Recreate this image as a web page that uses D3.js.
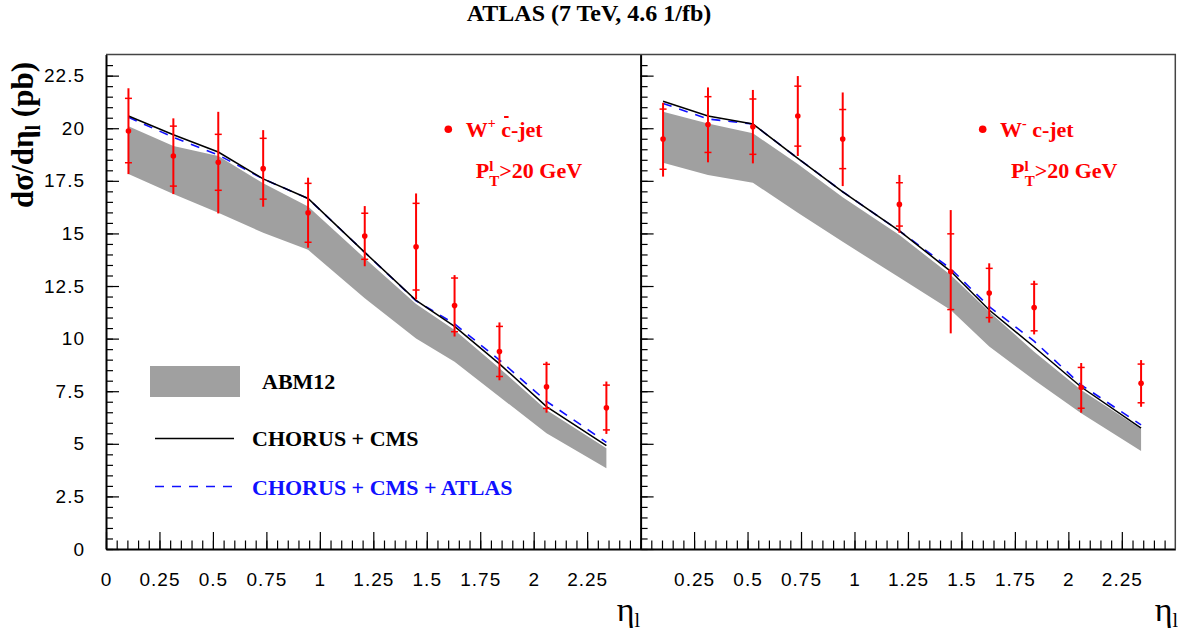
<!DOCTYPE html>
<html>
<head>
<meta charset="utf-8">
<script src="https://cdn.jsdelivr.net/npm/d3@7"></script>
<style>
  body { margin: 0; background: #fff; }
  svg text { font-family: 'Liberation Serif', 'Times New Roman', serif; }
  .tick text { font-family: 'Liberation Sans', Arial, sans-serif; font-size: 19px; letter-spacing: 1px; fill: #000; }
  .tick line { stroke: #000; stroke-width: 1.2; }
  .domain { stroke: #000; stroke-width: 2; }
</style>
</head>
<body>
<script>

var width = 1178;
var height = 633;

// bin centres in |eta_l|
var eta = [0.105, 0.315, 0.525, 0.735, 0.945, 1.21, 1.45, 1.63, 1.84, 2.06, 2.34];

// W+ cbar-jet (left panel)
var wpVal    = [19.87, 18.68, 18.38, 18.08, 15.98, 14.88, 14.37, 11.57, 9.39, 7.71, 6.71];
var wpTotHi  = [21.9, 20.47, 20.78, 19.91, 17.65, 16.3, 16.9, 13.02, 10.77, 8.9, 7.96];
var wpTotLo  = [17.82, 16.87, 15.95, 16.27, 14.32, 13.44, 11.87, 10.1, 8.02, 6.48, 5.47];
var wpStatHi = [21.42, 20.1, 19.71, 19.52, 17.38, 15.96, 16.43, 12.88, 10.58, 8.78, 7.79];
var wpStatLo = [18.36, 17.25, 17.05, 16.63, 14.58, 13.77, 12.31, 10.33, 8.2, 6.68, 5.66];
var wpChorusCms      = [20.58, 19.69, 18.87, 17.59, 16.66, 14.1, 11.82, 10.58, 8.8, 6.77, 4.91];
var wpChorusCmsAtlas = [20.52, 19.57, 18.73, 17.59, 16.66, 14.1, 11.8, 10.7, 8.98, 7.02, 5.07];
var wpAbmHi = [20.1, 19.15, 18.68, 17.38, 16.28, 13.82, 11.64, 10.41, 8.59, 6.61, 4.79];
var wpAbmLo = [17.82, 16.87, 15.98, 15.03, 14.22, 11.92, 10.01, 8.9, 7.24, 5.5, 3.84];

// W- c-jet (right panel)
var wmVal    = [19.49, 20.18, 20.07, 20.58, 19.49, 16.38, 13.18, 12.17, 11.48, 7.68, 7.88];
var wmTotHi  = [21.21, 21.94, 21.82, 22.48, 21.7, 17.78, 16.11, 13.58, 12.75, 8.84, 8.98];
var wmTotLo  = [17.7, 18.38, 18.33, 18.68, 17.25, 15.03, 10.25, 10.76, 10.2, 6.48, 6.76];
var wmStatHi = [20.91, 21.5, 21.39, 22.0, 20.89, 17.41, 14.98, 13.34, 12.59, 8.63, 8.79];
var wmStatLo = [18.05, 18.85, 18.76, 19.15, 18.08, 15.35, 11.38, 11.0, 10.37, 6.69, 6.95];
var wmChorusCms      = [21.28, 20.58, 20.2, 18.57, 16.98, 15.12, 13.2, 11.36, 9.6, 7.7, 5.75];
var wmChorusCmsAtlas = [21.18, 20.44, 20.2, 18.57, 16.98, 15.12, 13.32, 11.52, 9.88, 7.8, 5.9];
var wmAbmHi = [20.78, 20.23, 19.76, 18.3, 16.72, 14.92, 13.02, 11.28, 9.38, 7.56, 5.7];
var wmAbmLo = [18.36, 17.78, 17.41, 15.98, 14.6, 12.9, 11.36, 9.62, 8.03, 6.45, 4.66];

var yMajor = [0, 2.5, 5, 7.5, 10, 12.5, 15, 17.5, 20, 22.5];
var yMinor = d3.range(0, 47).map(function (i) { return i * 0.5; });
var xMajorLeft  = [0, 0.25, 0.5, 0.75, 1, 1.25, 1.5, 1.75, 2, 2.25];
var xMajorRight = [0.25, 0.5, 0.75, 1, 1.25, 1.5, 1.75, 2, 2.25];
var xMinor = d3.range(0, 50).map(function (i) { return i * 0.05; });

var svg = d3.select('body').append('svg')
  .attr('width', width)
  .attr('height', height);

var y = d3.scaleLinear().domain([0, 23.5]).range([549, 54.6]);
var xLeft = d3.scaleLinear().domain([0, 2.5]).range([106, 640.6]);
var xRight = d3.scaleLinear().domain([0, 2.5]).range([640.6, 1175.3]);

var fmt = function (d) { return String(+d.toFixed(2)); };

function drawAxes(x, yLabels, xTicks) {
  var x0 = x.range()[0];
  // y minor + major
  svg.append('g').attr('transform', 'translate(' + x0 + ',0)')
    .call(d3.axisLeft(y).tickValues(yMinor).tickSizeInner(-7).tickSizeOuter(0).tickFormat(''))
    .select('.domain').remove();
  svg.append('g').attr('transform', 'translate(' + x0 + ',0)')
    .call(d3.axisLeft(y).tickValues(yMajor).tickSizeInner(-13).tickSizeOuter(0)
      .tickPadding(21).tickFormat(yLabels ? fmt : ''));
  // x minor + major
  svg.append('g').attr('transform', 'translate(0,549)')
    .call(d3.axisBottom(x).tickValues(xMinor).tickSizeInner(-8.5).tickSizeOuter(0).tickFormat(''))
    .select('.domain').remove();
  svg.append('g').attr('transform', 'translate(0,549)')
    .call(d3.axisBottom(x).tickValues(xTicks).tickSizeInner(-17).tickSizeOuter(0)
      .tickPadding(24).tickFormat(fmt));
}

function drawPanel(x, val, totHi, totLo, statHi, statLo, chCms, chCmsAtlas, abmHi, abmLo) {
  var g = svg.append('g');
  var idx = d3.range(eta.length);

  var band = d3.area()
    .x(function (i) { return x(eta[i]); })
    .y0(function (i) { return y(abmLo[i]); })
    .y1(function (i) { return y(abmHi[i]); });
  g.append('path').datum(idx)
    .attr('d', band)
    .style('fill', '#a0a0a0');

  var line = function (arr) {
    return d3.line()
      .x(function (i) { return x(eta[i]); })
      .y(function (i) { return y(arr[i]); });
  };
  g.append('path').datum(idx)
    .attr('d', line(chCmsAtlas))
    .style('fill', 'none')
    .style('stroke', '#1010ff')
    .style('stroke-width', 1.6)
    .style('stroke-dasharray', '9,8');
  g.append('path').datum(idx)
    .attr('d', line(chCms))
    .style('fill', 'none')
    .style('stroke', '#000')
    .style('stroke-width', 1.5);

  var pts = g.selectAll('g.pt').data(idx).enter().append('g').attr('class', 'pt');
  pts.append('line')
    .attr('x1', function (i) { return x(eta[i]); })
    .attr('x2', function (i) { return x(eta[i]); })
    .attr('y1', function (i) { return y(totHi[i]); })
    .attr('y2', function (i) { return y(totLo[i]); })
    .style('stroke', '#ff0000')
    .style('stroke-width', 2);
  [statHi, statLo].forEach(function (arr) {
    pts.append('line')
      .attr('x1', function (i) { return x(eta[i]) - 3.5; })
      .attr('x2', function (i) { return x(eta[i]) + 3.5; })
      .attr('y1', function (i) { return y(arr[i]); })
      .attr('y2', function (i) { return y(arr[i]); })
      .style('stroke', '#ff0000')
      .style('stroke-width', 1.5);
  });
  pts.append('circle')
    .attr('cx', function (i) { return x(eta[i]); })
    .attr('cy', function (i) { return y(val[i]); })
    .attr('r', 2.8)
    .style('fill', '#ff0000');
}

drawPanel(xLeft, wpVal, wpTotHi, wpTotLo, wpStatHi, wpStatLo, wpChorusCms, wpChorusCmsAtlas, wpAbmHi, wpAbmLo);
drawPanel(xRight, wmVal, wmTotHi, wmTotLo, wmStatHi, wmStatLo, wmChorusCms, wmChorusCmsAtlas, wmAbmHi, wmAbmLo);

drawAxes(xLeft, true, xMajorLeft);
drawAxes(xRight, false, xMajorRight);

// frame top and right
svg.append('path')
  .attr('d', 'M' + xLeft(0) + ',' + y(23.5) + 'H' + xRight(2.5) + 'V' + y(0))
  .style('fill', 'none')
  .style('stroke', '#444')
  .style('stroke-width', 1.5);

// title
svg.append('text')
  .attr('x', 589).attr('y', 21)
  .attr('text-anchor', 'middle')
  .style('font-size', '24px').style('font-weight', 'bold')
  .text('ATLAS (7 TeV, 4.6 1/fb)');

// y title
var yt = svg.append('text')
  .attr('transform', 'translate(33,135) rotate(-90)')
  .attr('text-anchor', 'middle')
  .style('font-size', '31px').style('font-weight', 'bold');
yt.append('tspan').text('dσ/dη');
yt.append('tspan').attr('dy', 7).style('font-size', '20px').text('l');
yt.append('tspan').attr('dy', -7).text(' (pb)');

// x titles
[640, 1178].forEach(function (xe) {
  var t = svg.append('text')
    .attr('x', xe).attr('y', 621)
    .attr('text-anchor', 'end')
    .style('font-size', '34px');
  t.append('tspan').text('η');
  t.append('tspan').attr('dy', 6).style('font-size', '20px').text('l');
});

// legend
var lg = svg.append('g');
lg.append('rect').attr('x', 150).attr('y', 366).attr('width', 90).attr('height', 31)
  .style('fill', '#a0a0a0');
lg.append('line').attr('x1', 155).attr('x2', 234).attr('y1', 438.5).attr('y2', 438.5)
  .style('stroke', '#000').style('stroke-width', 1.5);
lg.append('line').attr('x1', 155).attr('x2', 234).attr('y1', 486.5).attr('y2', 486.5)
  .style('stroke', '#1010ff').style('stroke-width', 1.6).style('stroke-dasharray', '9,8');
lg.append('text').attr('x', 262).attr('y', 389)
  .style('font-size', '22px').style('font-weight', 'bold').text('ABM12');
lg.append('text').attr('x', 252).attr('y', 446)
  .style('font-size', '22px').style('font-weight', 'bold').text('CHORUS + CMS');
lg.append('text').attr('x', 252).attr('y', 495)
  .style('font-size', '22px').style('font-weight', 'bold').style('fill', '#1010ff')
  .text('CHORUS + CMS + ATLAS');

// process labels
function processLabel(dotX, wX, ptX, sup, cbar) {
  var g = svg.append('g').style('fill', '#ff0000')
    .style('font-size', '22px').style('font-weight', 'bold');
  g.append('circle').attr('cx', dotX).attr('cy', 129.3).attr('r', 3.8);
  var t = g.append('text').attr('x', wX).attr('y', 136.7);
  t.append('tspan').text('W');
  t.append('tspan').attr('dy', -9).style('font-size', '14px').text(sup);
  t.append('tspan').attr('dy', 9).text(' c-jet');
  if (cbar) {
    var node = t.node();
    var n = 'W'.length + sup.length + 1;
    var a = node.getStartPositionOfChar(n).x;
    var b = node.getEndPositionOfChar(n).x;
    var mid = (a + b) / 2;
    g.append('line').attr('x1', mid - 2).attr('x2', mid + 2.5)
      .attr('y1', 117).attr('y2', 117)
      .style('stroke', '#ff0000').style('stroke-width', 2);
  }
  var p = g.append('text').attr('x', ptX).attr('y', 178.3);
  p.append('tspan').text('P');
  p.append('tspan').attr('dy', -7).style('font-size', '15px').text('l');
  p.append('tspan').attr('dx', -4).attr('dy', 15).style('font-size', '15px').text('T');
  p.append('tspan').attr('dy', -8).text('>20 GeV');
}
processLabel(448.3, 465.7, 475.7, '+', true);
processLabel(982.7, 1000, 1011, '-', false);

</script>
</body>
</html>
